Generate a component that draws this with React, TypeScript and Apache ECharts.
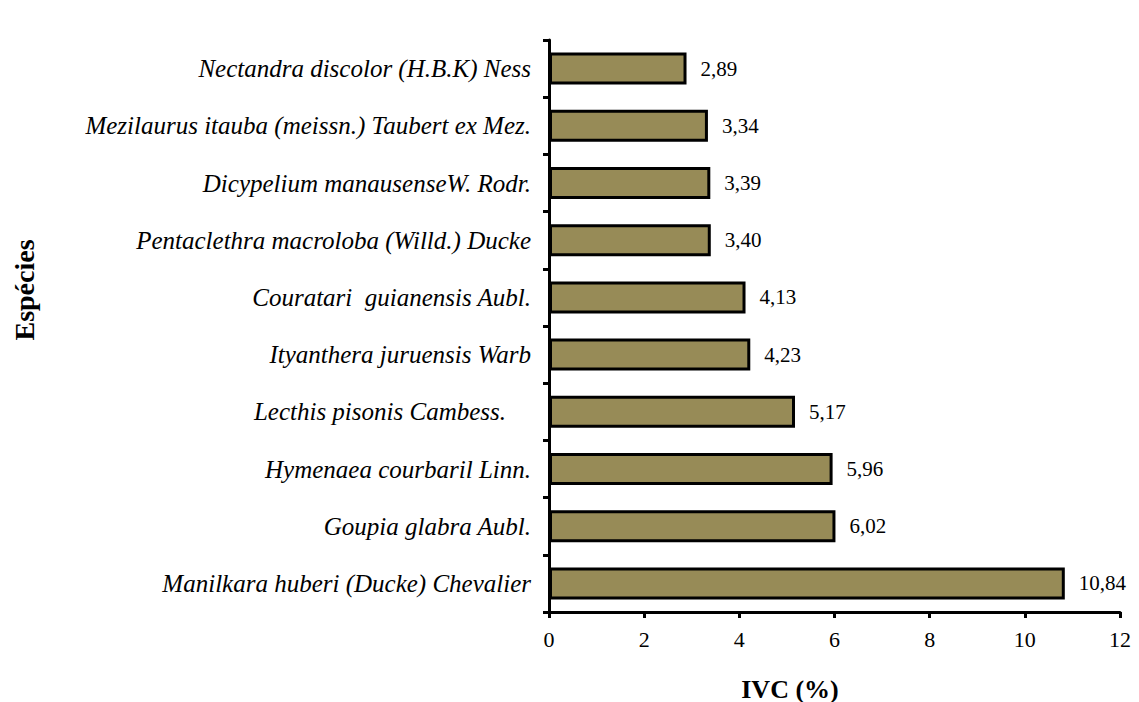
import React, { useEffect, useRef } from "react";
import * as echarts from "echarts";

const categories = [
  "Nectandra discolor (H.B.K) Ness",
  "Mezilaurus itauba (meissn.) Taubert ex Mez.",
  "Dicypelium manausenseW. Rodr.",
  "Pentaclethra macroloba (Willd.) Ducke",
  "Couratari  guianensis Aubl.",
  "Ityanthera juruensis Warb",
  "Lecthis pisonis Cambess.    ",
  "Hymenaea courbaril Linn.",
  "Goupia glabra Aubl.",
  "Manilkara huberi (Ducke) Chevalier",
];
const values = [2.89, 3.34, 3.39, 3.4, 4.13, 4.23, 5.17, 5.96, 6.02, 10.84];
const xTitle = "IVC (%)";
const yTitle = "Espécies";

const FONT = '"Liberation Serif", "Times New Roman", serif';

export default function App() {
  const ref = useRef<HTMLDivElement>(null);
  useEffect(() => {
    if (!ref.current) return;
    const chart = echarts.init(ref.current, null, { renderer: "svg" });
    chart.setOption({
      animation: false,
      grid: {
        left: 549,
        right: 19,
        top: 40,
        bottom: 90,
        containLabel: false,
        outerBoundsMode: "none",
      },
      graphic: [
        {
          type: "text",
          x: 790,
          y: 689,
          style: {
            text: xTitle,
            fontFamily: FONT,
            fontSize: 26,
            fontWeight: "bold",
            fill: "#000",
            align: "center",
            verticalAlign: "middle",
          },
        },
        {
          type: "text",
          x: 24,
          y: 290,
          rotation: Math.PI / 2,
          style: {
            text: yTitle,
            fontFamily: FONT,
            fontSize: 28,
            fontWeight: "bold",
            fill: "#000",
            align: "center",
            verticalAlign: "middle",
          },
        },
      ],
      xAxis: {
        type: "value",
        min: 0,
        max: 12,
        interval: 2,
        axisLine: { show: true, lineStyle: { color: "#000", width: 3 } },
        axisTick: { show: true, length: 6, lineStyle: { color: "#000", width: 3 } },
        axisLabel: { fontFamily: FONT, fontSize: 22, color: "#000", margin: 16 },
        splitLine: { show: false },
      },
      yAxis: {
        type: "category",
        data: categories,
        inverse: true,
        axisLine: { show: true, lineStyle: { color: "#000", width: 3 } },
        axisTick: { show: true, length: 6, lineStyle: { color: "#000", width: 3 } },
        axisLabel: {
          fontFamily: FONT,
          fontSize: 25,
          fontStyle: "italic",
          color: "#000",
          margin: 18,
        },
      },
      series: [
        {
          type: "bar",
          data: values,
          barCategoryGap: "44%",
          itemStyle: { color: "#978b57", borderColor: "#000", borderWidth: 3 },
          label: {
            show: true,
            position: "right",
            distance: 14,
            fontFamily: FONT,
            fontSize: 21,
            color: "#000",
            formatter: (p: any) => p.value.toFixed(2).replace(".", ","),
          },
        },
      ],
    });
    return () => chart.dispose();
  }, []);
  return <div ref={ref} style={{ width: 1139, height: 702, position: "absolute", left: 0, top: 0 }} />;
}
